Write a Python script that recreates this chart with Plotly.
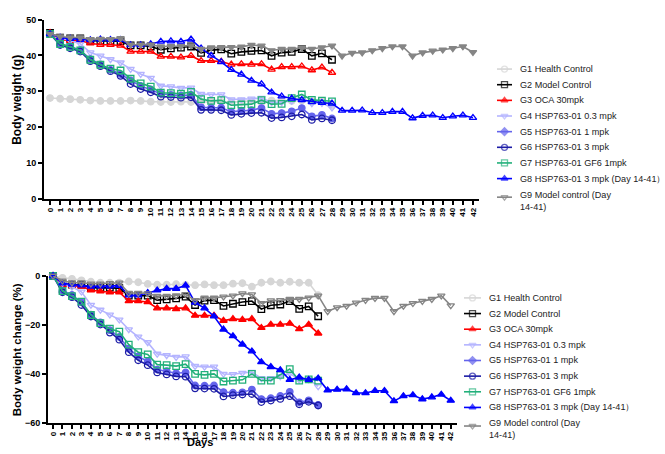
import plotly.graph_objects as go

W, H = 665, 454

# ---------------- data ----------------
days_28 = list(range(0, 29))
days_42 = list(range(0, 43))
day_ticks = [str(d) for d in range(0, 43)]

names = [
    "G1 Health Control",
    "G2 Model Control",
    "G3 OCA 30mpk",
    "G4 HSP763-01 0.3 mpk",
    "G5 HSP763-01 1 mpk",
    "G6 HSP763-01 3 mpk",
    "G7 HSP763-01 GF6 1mpk",
    "G8 HSP763-01 3 mpk (Day 14-41）",
    "G9 Model control (Day<br>14-41)",
]

# Body weight (g)
bw_g1 = [28.1, 27.9, 27.8, 27.6, 27.4, 27.3, 27.3, 27.3, 27.4, 27.3, 27.1, 27.0, 27.0, 27.1, 27.0,
         27.0, 27.1, 27.0, 27.0, 27.1, 27.3, 26.9, 27.4, 27.5, 27.3, 27.4, 27.3, 27.3, 26.0]
bw_g2 = [46.3, 45.0, 44.8, 44.8, 44.1, 44.1, 44.0, 44.0, 42.8, 42.8, 42.5, 41.6, 42.0, 42.2, 42.5,
         40.7, 41.5, 41.7, 40.5, 41.0, 41.3, 41.4, 39.9, 40.8, 41.0, 41.8, 39.9, 40.6, 38.8]
bw_g3 = [46.3, 44.5, 44.1, 44.1, 43.4, 43.0, 43.0, 42.8, 41.1, 41.1, 41.1, 39.7, 39.7, 39.5, 39.9,
         38.5, 38.5, 38.3, 37.5, 37.6, 37.5, 37.6, 36.1, 36.8, 36.8, 37.0, 35.9, 36.7, 35.2]
bw_g4 = [46.3, 44.9, 44.2, 43.3, 40.8, 39.9, 38.9, 38.0, 36.2, 34.8, 33.7, 31.5, 31.3, 30.9, 31.0,
         29.2, 29.1, 29.1, 27.7, 27.7, 27.9, 28.1, 26.9, 26.9, 27.3, 27.8, 26.6, 26.7, 25.4]
bw_g5 = [46.0, 43.3, 42.5, 41.5, 39.0, 37.5, 36.0, 34.8, 33.0, 31.5, 30.5, 29.3, 29.0, 28.8, 29.0,
         25.5, 25.4, 25.4, 24.3, 24.6, 24.7, 25.3, 23.7, 23.9, 24.4, 25.3, 23.0, 23.4, 22.4]
bw_g6 = [46.0, 42.9, 42.0, 41.1, 38.4, 37.0, 35.6, 34.3, 32.0, 30.6, 29.7, 28.5, 28.4, 28.2, 28.3,
         24.8, 24.8, 24.7, 23.4, 23.7, 23.9, 24.0, 22.5, 22.7, 23.0, 23.5, 22.0, 22.4, 21.9]
bw_g7 = [46.0, 43.2, 42.4, 41.4, 38.8, 37.4, 36.3, 35.8, 33.5, 32.2, 31.3, 29.6, 29.5, 29.3, 29.8,
         27.8, 27.3, 27.5, 26.1, 26.3, 26.4, 27.5, 26.4, 26.5, 28.1, 29.1, 27.6, 27.4, 27.2]
bw_g8 = [46.0, 45.0, 44.7, 44.4, 44.3, 44.5, 44.4, 44.4, 42.9, 42.9, 43.2, 43.9, 44.0, 43.9, 44.5,
         42.0, 40.0, 38.2, 36.0, 34.7, 33.0, 32.0, 29.7, 28.6, 28.0, 27.6, 27.0, 26.8, 26.6,
         24.6, 24.6, 24.7, 24.0, 24.0, 24.3, 24.3, 22.5, 23.2, 23.3, 22.6, 23.0, 23.3, 22.6]
bw_g9 = [46.0, 45.3, 45.0, 45.0, 44.5, 44.6, 44.5, 44.8, 43.0, 43.0, 43.0, 42.5, 42.5, 42.6, 42.8,
         41.8, 42.2, 42.2, 42.3, 42.4, 42.9, 42.7, 41.4, 41.8, 41.8, 42.2, 41.8, 42.2, 42.7,
         39.9, 40.7, 40.8, 41.4, 42.0, 42.5, 42.5, 39.9, 40.8, 41.3, 41.6, 42.0, 42.5, 40.9]

# Body weight change (%)
pc_g1 = [0, -0.8, -1.2, -1.8, -2.4, -2.8, -2.8, -2.8, -2.3, -2.6, -3.3, -3.6, -3.6, -3.4, -3.7,
         -3.8, -3.5, -3.8, -3.8, -3.2, -3.0, -4.4, -2.8, -2.3, -2.8, -2.4, -2.8, -2.8, -7.9]
pc_g2 = [0, -3.2, -3.6, -3.6, -4.8, -4.8, -4.8, -5.0, -8.1, -8.1, -8.1, -9.9, -9.6, -9.2, -8.5,
         -11.9, -10.1, -9.9, -12.3, -11.4, -10.7, -10.3, -13.6, -12.0, -11.7, -10.3, -13.5, -12.5, -16.5]
pc_g3 = [0, -3.6, -4.0, -4.3, -5.9, -6.3, -6.7, -6.7, -10.3, -10.3, -10.7, -13.2, -13.2, -13.5, -13.2,
         -16.2, -16.2, -16.2, -18.3, -17.6, -17.9, -17.6, -21.2, -19.9, -19.9, -19.5, -21.7, -19.9, -23.5]
pc_g4 = [0, -3.0, -4.5, -6.5, -11.9, -13.9, -15.9, -17.9, -21.9, -24.9, -27.2, -31.9, -32.5, -33.2, -33.0,
         -36.9, -37.2, -37.2, -40.1, -40.2, -39.7, -39.3, -41.9, -41.9, -41.1, -39.9, -42.5, -42.3, -45.2]
pc_g5 = [0, -6.0, -7.8, -10.8, -15.8, -19.0, -22.2, -25.0, -29.8, -32.9, -35.0, -38.3, -39.0, -39.8, -39.5,
         -44.8, -44.9, -44.8, -47.5, -47.8, -47.6, -46.5, -50.4, -50.0, -49.1, -47.4, -51.7, -50.9, -52.8]
pc_g6 = [0, -6.7, -8.7, -11.9, -16.6, -19.9, -23.2, -26.1, -31.2, -34.5, -36.5, -39.5, -40.3, -41.1, -41.2,
         -46.0, -46.1, -46.2, -49.3, -48.8, -48.5, -48.3, -51.6, -51.0, -50.3, -49.2, -52.5, -51.5, -53.0]
pc_g7 = [0, -6.2, -8.3, -10.5, -16.0, -19.3, -21.6, -22.8, -28.1, -31.2, -32.1, -36.3, -36.5, -36.9, -36.1,
         -40.1, -40.5, -40.1, -43.2, -42.8, -42.5, -40.1, -42.8, -42.8, -40.5, -38.1, -42.8, -42.3, -42.8]
pc_g8 = [0, -3.0, -3.5, -3.8, -4.3, -4.2, -4.2, -4.0, -7.9, -7.9, -6.9, -5.9, -5.2, -5.2, -3.9,
         -10.9, -13.2, -16.5, -21.9, -24.6, -28.0, -30.8, -35.2, -37.2, -38.5, -42.5, -41.5, -42.5, -41.9,
         -46.8, -46.5, -46.3, -47.9, -47.9, -47.0, -47.0, -51.2, -49.1, -48.7, -50.4, -49.6, -48.5, -51.0]
pc_g9 = [0, -2.0, -2.8, -2.8, -3.2, -3.2, -3.0, -2.8, -7.0, -7.0, -7.2, -8.2, -8.2, -8.0, -7.5,
         -10.0, -9.0, -9.0, -8.5, -8.1, -7.2, -7.6, -11.2, -10.1, -10.0, -9.5, -9.5, -8.9, -8.1,
         -14.5, -12.9, -12.3, -11.0, -9.9, -9.1, -9.1, -14.5, -12.3, -11.2, -10.3, -9.5, -8.1, -12.1]

# ---------------- styles ----------------
colors = ["#d6d6d6", "#000000", "#ff0000", "#b4b4ff", "#6464ec", "#1c1ca6", "#22b07a", "#0000ff", "#858585"]
sym_top = ["circle", "square-open", "triangle-up-open", "triangle-down-open", "circle",
           "circle-open", "square-open", "triangle-up-open", "triangle-down"]
sym_bot = ["circle", "square-open", "triangle-up", "triangle-down-open", "circle",
           "circle-open", "square-open", "triangle-up", "triangle-down-open"]
sym_legend = ["circle-open", "square-open", "triangle-up", "triangle-down-open", "diamond",
              "circle-open", "square-open", "triangle-up", "triangle-down-open"]

top_series = [(days_28, bw_g1), (days_28, bw_g2), (days_28, bw_g3), (days_28, bw_g4), (days_28, bw_g5),
              (days_28, bw_g6), (days_28, bw_g7), (days_42, bw_g8), (days_42, bw_g9)]
bot_series = [(days_28, pc_g1), (days_28, pc_g2), (days_28, pc_g3), (days_28, pc_g4), (days_28, pc_g5),
              (days_28, pc_g6), (days_28, pc_g7), (days_42, pc_g8), (days_42, pc_g9)]

FONT = "Liberation Sans, Arial, sans-serif"

fig = go.Figure()
for i, (x, y) in enumerate(top_series):
    fig.add_trace(go.Scatter(
        x=x, y=y, name=names[i], mode="lines+markers", showlegend=False,
        line=dict(color=colors[i], width=1.6),
        marker=dict(symbol=sym_top[i], size=6.5, color=colors[i], line=dict(color=colors[i], width=1.3)),
        xaxis="x", yaxis="y", cliponaxis=False,
    ))
for i, (x, y) in enumerate(bot_series):
    fig.add_trace(go.Scatter(
        x=x, y=y, name=names[i], mode="lines+markers", showlegend=False,
        line=dict(color=colors[i], width=1.6),
        marker=dict(symbol=sym_bot[i], size=6.5, color=colors[i], line=dict(color=colors[i], width=1.3)),
        xaxis="x2", yaxis="y2", cliponaxis=False,
    ))

# ---------------- custom legends (pixel layout on an overlay axis) ----------------
LEG_FONT = dict(family=FONT, size=9.1, color="#222222")
ROW = 16.0
legends = [
    dict(y0=65.5, kx0=497, kx1=512, tx=518),
    dict(y0=299.5, kx0=464, kx1=481, tx=487),
]
annotations = []
for L in legends:
    for i in range(9):
        yc = L["y0"] + i * ROW
        ykey = yc
        if i == 8:
            yc = L["y0"] + 8 * ROW + 6.5   # two-line entry: center of both lines
            ykey = L["y0"] + 8 * ROW + 3
        xm = (L["kx0"] + L["kx1"]) / 2
        fig.add_trace(go.Scatter(
            x=[L["kx0"], xm, L["kx1"]], y=[ykey, ykey, ykey], mode="lines+markers", showlegend=False,
            line=dict(color=colors[i], width=1.6), hoverinfo="skip",
            marker=dict(symbol=sym_legend[i], size=[0, 6, 0], color=colors[i],
                        line=dict(color=colors[i], width=1.3)),
            xaxis="x3", yaxis="y3", cliponaxis=False,
        ))
        annotations.append(dict(text=names[i], x=L["tx"], y=yc, xref="x3", yref="y3",
                                xanchor="left", yanchor="middle", showarrow=False, align="left",
                                font=LEG_FONT))

def px_x(p):
    return p / W

def px_y(p):
    return 1 - p / H

axis_common = dict(
    showline=True, linecolor="black", linewidth=2, ticks="outside", ticklen=4, tickwidth=1.5,
    tickcolor="black", showgrid=False, zeroline=False, mirror=False,
)
xtick_font = dict(family=FONT, size=8, color="black", weight="bold")
ytick_font = dict(family=FONT, size=9, color="black", weight="bold")

fig.update_layout(
    width=W, height=H, margin=dict(l=0, r=0, t=0, b=0),
    paper_bgcolor="white", plot_bgcolor="rgba(0,0,0,0)",
    font=dict(family=FONT, color="black"),
    showlegend=False,
    xaxis=dict(axis_common, domain=[px_x(44), px_x(479)], range=[-0.6, 42.6], anchor="y",
               tickmode="array", tickvals=days_42, ticktext=day_ticks, tickangle=-90, tickfont=xtick_font),
    yaxis=dict(axis_common, domain=[px_y(198), px_y(15)], range=[0, 50], anchor="x",
               tickvals=[0, 10, 20, 30, 40, 50], tickfont=ytick_font),
    xaxis2=dict(axis_common, domain=[px_x(48), px_x(457)], range=[-0.53, 42.66], anchor="y2",
                tickmode="array", tickvals=days_42, ticktext=day_ticks, tickangle=-90, tickfont=xtick_font),
    yaxis2=dict(axis_common, domain=[px_y(427), px_y(277)], range=[-60, 0], anchor="x2",
                tickvals=[-60, -40, -20, 0], tickfont=ytick_font),
    xaxis3=dict(domain=[0, 1], range=[0, W], visible=False, fixedrange=True, anchor="y3"),
    yaxis3=dict(domain=[0, 1], range=[H, 0], visible=False, fixedrange=True, anchor="x3"),
)

title_font = dict(family=FONT, size=12, color="black", weight="bold")
annotations += [
    dict(text="Body weight (g)", x=px_x(17), y=px_y(97), xref="paper", yref="paper",
         textangle=-90, showarrow=False, font=title_font, xanchor="center", yanchor="middle"),
    dict(text="Body weight change (%)", x=px_x(17), y=px_y(353), xref="paper", yref="paper",
         textangle=-90, showarrow=False, font=dict(title_font, size=11.5), xanchor="center", yanchor="middle"),
    dict(text="Days", x=px_x(200), y=px_y(447), xref="paper", yref="paper",
         showarrow=False, font=dict(title_font, size=11), xanchor="center", yanchor="middle"),
]
fig.update_layout(annotations=annotations)

fig.write_html("out.html", config={"displayModeBar": False},
               post_script="document.body.style.margin='0';document.body.style.overflow='hidden';")
